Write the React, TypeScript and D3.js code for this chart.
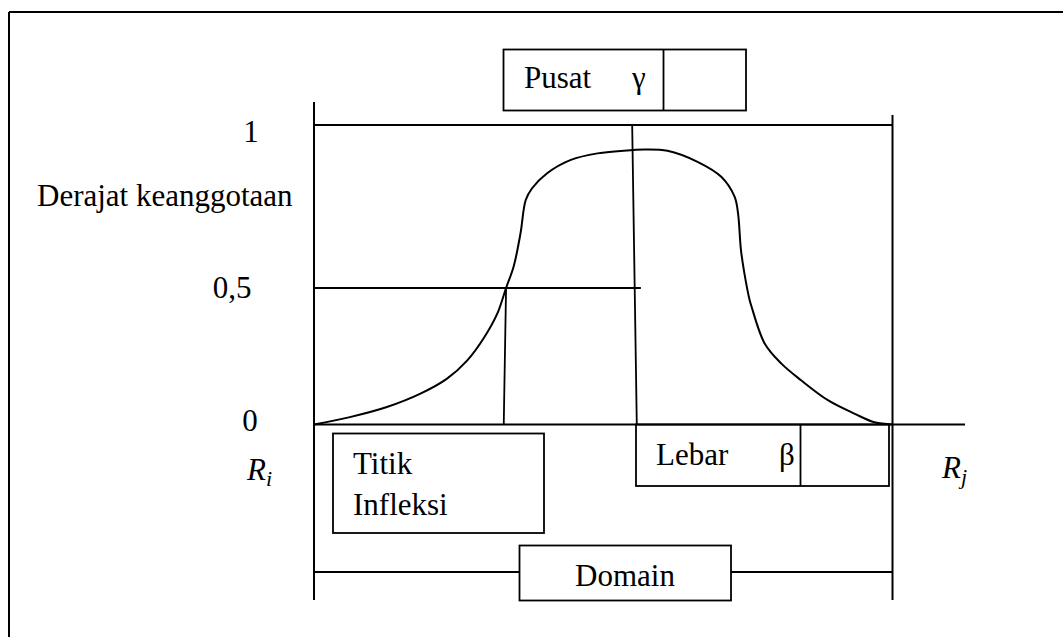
import React from 'react';
import * as d3 from 'd3';

// membership curve: position across the domain (0 = R_i, 100 = R_j) and degree of membership
const curveU = [0, 6.2, 12.6, 18.4, 23.0, 26.5, 29.3, 31.7, 33.2, 34.5, 35.7, 36.6, 37.7, 40.3, 44.4, 49.0, 55.1, 57.1, 61.1, 66.3, 70.4, 72.7, 73.3, 73.8, 74.4, 75.3, 75.6, 77.9, 80.8, 84.2, 88.9, 93.5, 96.9, 100];
const curveMu = [0, 0.027, 0.064, 0.113, 0.168, 0.235, 0.315, 0.407, 0.5, 0.565, 0.668, 0.77, 0.806, 0.852, 0.893, 0.913, 0.923, 0.925, 0.921, 0.887, 0.841, 0.78, 0.729, 0.617, 0.545, 0.456, 0.434, 0.297, 0.223, 0.162, 0.088, 0.039, 0.008, 0];

const yTickValues = [1, 0.5, 0];
const yTickLabels = ['1', '0,5', '0'];

// inflection point and centre (top / bottom ends of the hand drawn guide lines)
const inflectionU = [33.2, 32.8];
const centreU = [55.0, 55.8];
const halfLineEndU = 56.5;

const FONT = "'Liberation Serif', 'DejaVu Serif', serif";
const FS = 31;

export default function App() {
    const width = 1063, height = 637;

    const x = d3.scaleLinear().domain([0, 100]).range([314, 892.5]);
    // the drawing is not to scale: 0.5 sits lower than half way
    const y = d3.scaleLinear().domain([0, 0.5, 1]).range([424.5, 288, 125]);

    const pts: [number, number][] = curveU.map((u, i) => [u, curveMu[i]]);
    const line = d3.line<[number, number]>()
        .x(d => x(d[0]))
        .y(d => y(d[1]))
        .curve(d3.curveCatmullRom.alpha(0.5));

    const stroke = '#000';
    const sw = 2;

    const tickLabelX: any = { '1': 251, '0,5': 232, '0': 250 };
    const tickLabelDy: any = { '1': 17, '0,5': 10, '0': 6 };

    return (
        <svg width={width} height={height}
            style={{ position: 'absolute', left: 0, top: 0, background: '#fff', fontFamily: FONT, fontSize: FS }}>
            <rect x={0} y={0} width={width} height={height} fill="#fff" />
            {/* outer frame (only top and left edges fall inside the picture) */}
            <line x1={9} y1={12} x2={width} y2={12} stroke={stroke} strokeWidth={2} />
            <line x1={9} y1={12} x2={9} y2={height} stroke={stroke} strokeWidth={2} />

            {/* vertical bounds */}
            <line x1={x(0)} y1={102} x2={x(0)} y2={600} stroke={stroke} strokeWidth={sw} />
            <line x1={x(100)} y1={115} x2={x(100)} y2={600} stroke={stroke} strokeWidth={sw} />

            {/* level 1 and level 0 lines */}
            <line x1={x(0)} y1={y(1)} x2={x(100)} y2={y(1)} stroke={stroke} strokeWidth={sw} />
            <line x1={x(0)} y1={y(0)} x2={965} y2={y(0)} stroke={stroke} strokeWidth={sw} />
            <line x1={x(0) - 1} y1={y(0.5)} x2={x(halfLineEndU)} y2={y(0.5)} stroke={stroke} strokeWidth={1.8} />

            {/* guide lines */}
            <line x1={x(inflectionU[0])} y1={y(0.5)} x2={x(inflectionU[1])} y2={y(0)} stroke={stroke} strokeWidth={1.8} />
            <line x1={x(centreU[0])} y1={y(1)} x2={x(centreU[1])} y2={y(0)} stroke={stroke} strokeWidth={1.8} />

            {/* membership curve */}
            <path d={line(pts) || ''} fill="none" stroke={stroke} strokeWidth={2} />

            {/* y labels */}
            {yTickValues.map((v, i) => (
                <text key={i} x={tickLabelX[yTickLabels[i]]} y={y(v) + tickLabelDy[yTickLabels[i]]}
                    textAnchor="middle">{yTickLabels[i]}</text>
            ))}
            <text x={37} y={206}>Derajat keanggotaan</text>

            {/* R_i and R_j */}
            <text x={247} y={480} fontStyle="italic">R<tspan fontSize={22} dy={6}>i</tspan></text>
            <text x={942} y={478} fontStyle="italic">R<tspan fontSize={22} dy={6}>j</tspan></text>

            {/* Pusat box */}
            <rect x={503.5} y={49.5} width={242.5} height={61} fill="none" stroke={stroke} strokeWidth={1.8} />
            <line x1={663.5} y1={49.5} x2={663.5} y2={110.5} stroke={stroke} strokeWidth={1.8} />
            <text x={524} y={88}>Pusat</text>
            <text x={632} y={88}>γ</text>

            {/* Titik Infleksi box */}
            <rect x={333} y={433.5} width={211} height={99.5} fill="none" stroke={stroke} strokeWidth={1.8} />
            <text x={353} y={474}>Titik</text>
            <text x={353} y={515}>Infleksi</text>

            {/* Lebar box */}
            <rect x={636} y={424.5} width={253} height={61.5} fill="none" stroke={stroke} strokeWidth={1.8} />
            <line x1={800.5} y1={424.5} x2={800.5} y2={486} stroke={stroke} strokeWidth={1.8} />
            <text x={656} y={465}>Lebar</text>
            <text x={779} y={465}>β</text>

            {/* Domain */}
            <line x1={x(0)} y1={572} x2={519.5} y2={572} stroke={stroke} strokeWidth={1.8} />
            <line x1={731} y1={572} x2={x(100)} y2={572} stroke={stroke} strokeWidth={1.8} />
            <rect x={519.5} y={545.5} width={211.5} height={55} fill="none" stroke={stroke} strokeWidth={1.8} />
            <text x={625} y={586} textAnchor="middle">Domain</text>
        </svg>
    );
}
